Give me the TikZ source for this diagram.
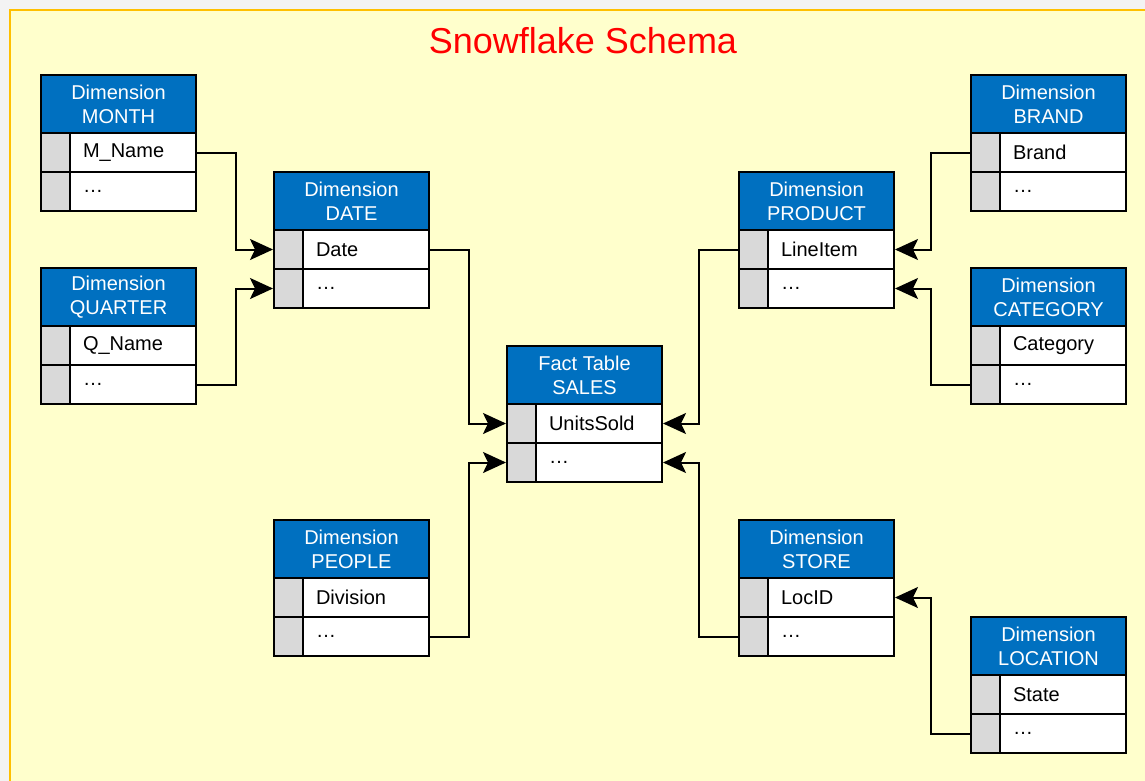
\documentclass[tikz,border=0pt]{standalone}
\usepackage{fontspec}
\setmainfont{Liberation Sans}
\usetikzlibrary{arrows.meta}
\definecolor{hdrblue}{HTML}{0070C0}
\definecolor{keygray}{HTML}{D9D9D9}
\definecolor{panel}{HTML}{FFFFCC}
\definecolor{panelborder}{HTML}{FFC000}
\definecolor{outside}{HTML}{F3F3F3}
\definecolor{titlered}{HTML}{FF0000}
\tikzset{
  hdr/.style={draw=black, line width=2pt, fill=hdrblue, text=white, anchor=north west,
    minimum width=155pt, minimum height=58pt, inner sep=0pt, align=center,
    font=\fontsize{20}{24}\selectfont},
  keycell/.style={draw=black, line width=2pt, fill=keygray, anchor=north west,
    minimum width=29pt, minimum height=39pt, inner sep=0pt},
  fld/.style={draw=black, line width=2pt, fill=white, anchor=north west,
    minimum height=39pt, inner xsep=13pt, inner ysep=0pt, text width=100pt, align=left,
    font=\fontsize{20}{24}\selectfont},
  conn/.style={draw=black, line width=2pt, -{Stealth[length=23pt,width=21pt,inset=5pt]}},
}
\newcommand\dimtab[6]{%
  \node[hdr] (#1-h) at (#2,#3) {#4\\#5};
  \node[keycell] (#1-k1) at (#2,#3+58) {};
  \node[fld] (#1-r1) at (#2+29,#3+58) {#6};
  \node[keycell] (#1-k2) at (#2,#3+97) {};
  \node[fld] (#1-r2) at (#2+29,#3+97) {\dots};
}
\begin{document}
\begin{tikzpicture}[x=1pt,y=-1pt]
\useasboundingbox (0,0) rectangle (1145,781);
\fill[outside] (0,0) rectangle (1145,781);
\draw[fill=panel, draw=panelborder, line width=2pt] (9.5,10.5) rectangle (1160,800);
\node[text=titlered, font=\fontsize{36}{40}\selectfont] (title) at (583,41) {Snowflake Schema};

\dimtab{month}{40}{74}{Dimension}{MONTH}{M\_Name}
\dimtab{quarter}{40}{267}{Dimension}{QUARTER}{Q\_Name}
\dimtab{date}{273}{171}{Dimension}{DATE}{Date}
\dimtab{people}{273}{519}{Dimension}{PEOPLE}{Division}
\dimtab{sales}{506}{345}{Fact Table}{SALES}{UnitsSold}
\dimtab{product}{738}{171}{Dimension}{PRODUCT}{LineItem}
\dimtab{store}{738}{519}{Dimension}{STORE}{LocID}
\dimtab{brand}{970}{74}{Dimension}{BRAND}{Brand}
\dimtab{category}{970}{267}{Dimension}{CATEGORY}{Category}
\dimtab{location}{970}{616}{Dimension}{LOCATION}{State}

\draw[conn] (month-r1.east) -- ++(39,0) |- (date-k1.west);
\draw[conn] (quarter-r2.east) -- ++(39,0) |- (date-k2.west);
\draw[conn] (date-r1.east) -- ++(39,0) |- (sales-k1.west);
\draw[conn] (people-r2.east) -- ++(39,0) |- (sales-k2.west);
\draw[conn] (product-k1.west) -- ++(-39,0) |- (sales-r1.east);
\draw[conn] (store-k2.west) -- ++(-39,0) |- (sales-r2.east);
\draw[conn] (brand-k1.west) -- ++(-39,0) |- (product-r1.east);
\draw[conn] (category-k2.west) -- ++(-39,0) |- (product-r2.east);
\draw[conn] (location-k2.west) -- ++(-39,0) |- (store-r1.east);
\end{tikzpicture}
\end{document}
